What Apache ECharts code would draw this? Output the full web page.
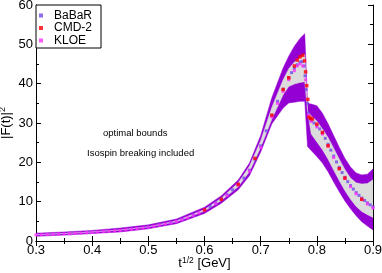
<!DOCTYPE html>
<html><head><meta charset="utf-8">
<script src="https://cdn.jsdelivr.net/npm/echarts@6/dist/echarts.min.js"></script>
<style>html,body{margin:0;padding:0;background:#fff}#c{width:382px;height:273px}</style>
</head><body><div id="c"></div>
<script>
// ---- band boundaries (x in GeV, |F|^2) ----
const bandX      = [0.30,0.35,0.40,0.45,0.50,0.55,0.60,0.63,0.66,0.68,0.70,0.72,0.74,0.75,0.76,0.77,0.7785,0.7835,0.79,0.80,0.81,0.82,0.83,0.84,0.85,0.86,0.87,0.88,0.89,0.90];
const upperOuter = [2.0, 2.3, 2.7, 3.3, 4.1, 5.6, 8.6, 11.5,15.5,19.8,26.8,36.5,44.0,47.0,49.5,51.5,52.7, 35.0, 34.8,34.4,32.5,29.8,26.8,23.8,21.0,18.8,17.3,16.8,17.0,18.3];
const upperInner = [1.6, 1.9, 2.3, 2.8, 3.6, 5.1, 8.0, 10.9,14.8,19.0,25.5,34.0,41.0,43.8,45.5,46.6,47.4, 33.0, 31.8,30.5,28.5,26.3,23.6,20.8,18.2,16.0,14.8,14.5,14.6,15.6];
const lowerInner = [1.6, 1.9, 2.3, 2.8, 3.6, 4.9, 7.6, 10.3,13.8,17.6,23.8,31.0,37.2,39.3,39.9,40.3,40.5, 33.0, 27.2,25.2,23.2,20.8,18.0,15.3,12.8,10.6,8.8, 7.5, 6.7, 6.0];
const lowerOuter = [1.2, 1.5, 1.9, 2.3, 3.1, 4.4, 7.0, 9.6, 13.0,16.6,22.6,29.8,33.8,35.1,35.3,35.5,35.5, 24.0, 23.0,21.5,19.8,17.6,15.0,12.5,10.2,8.2, 6.4, 4.9, 3.8, 2.8];

// ---- data points ----
const babarX = [0.50,0.52,0.54,0.56,0.58,0.60,0.61,0.62,0.63,0.64,0.65,0.66,0.67,0.68,0.69,0.70,0.71,0.72,0.73,0.74,0.75,0.755,0.76,0.765,0.77,0.774,0.777,0.779,0.781,0.783,0.785,0.788,0.79,0.795,0.80,0.805,0.81,0.815,0.82,0.825,0.83,0.835,0.84,0.845,0.85,0.855,0.86,0.865,0.87,0.875,0.88,0.885,0.89,0.895,0.90];
const babarY = [3.6, 4.1, 4.7, 5.5, 6.6, 7.9, 8.8, 9.7, 10.7,11.8,13.0,14.4,16.0,18.0,20.8,24.2,28.0,31.8,35.5,38.6,41.5,42.8,43.9,44.8,45.5,45.6,44.5,42.0,38.5,35.0,32.5,31.0,30.6,30.0,29.3,28.5,27.5,26.1,24.6,23.1,21.6,20.1,18.7,17.4,16.2,15.1,14.1,13.2,12.3,11.6,10.9,10.3,9.7,9.2,8.7];
const cmdX = [0.60,0.63,0.66,0.69,0.72,0.74,0.75,0.76,0.765,0.77,0.775,0.778,0.780,0.782,0.784,0.786,0.789,0.792,0.80,0.81,0.82,0.84,0.85,0.88];
const cmdY = [7.9, 10.6,14.4,21.0,32.0,38.5,41.5,44.5,46.0, 46.8,47.2, 45.8, 43.0, 39.5, 36.0, 31.5, 31.2, 31.0, 29.7,27.6,24.2,18.4,16.0,10.6];
const kloeX = [0.30,0.31,0.32,0.33,0.34,0.35,0.36,0.37,0.38,0.39,0.40,0.41,0.42,0.43,0.44,0.45,0.46,0.47,0.48,0.49,0.50,0.51,0.52,0.53,0.54,0.55,0.56,0.57,0.58,0.59,0.60,0.62,0.64,0.66,0.68,0.70,0.72,0.73,0.74,0.75,0.76,0.765,0.77,0.775,0.78,0.785,0.79,0.80,0.81,0.82,0.83,0.84,0.85,0.86,0.87,0.88,0.89,0.90];
const kloeY = [1.55,1.6, 1.65,1.7, 1.75,1.8, 1.85,1.9, 2.0, 2.1, 2.2, 2.3, 2.4, 2.5, 2.6, 2.7, 2.85,3.0, 3.15,3.3, 3.5, 3.75,4.0, 4.3, 4.6, 5.0, 5.4, 5.9, 6.5, 7.1, 7.8, 9.5, 11.6,14.2,17.8,23.8,31.5,35.0,38.0,41.0,43.3,44.5,45.0,44.5,41.0,32.0,30.4,29.0,27.2,24.2,21.2,18.4,15.9,13.8,12.0,10.6,9.4, 8.4];

const pair = (xs, ys) => xs.map((x, i) => [x, ys[i]]);

function bandSeries(name, upper, lower, color) {
  return {
    type: 'custom', name: name, silent: true, clip: true,
    data: [[bandX[0], lower[0]]],
    renderItem: function (params, api) {
      const pts = [];
      for (let i = 0; i < bandX.length; i++) pts.push(api.coord([bandX[i], upper[i]]));
      for (let i = bandX.length - 1; i >= 0; i--) pts.push(api.coord([bandX[i], lower[i]]));
      return {type: 'polygon', shape: {points: pts}, style: {fill: color, stroke: color, lineWidth: 0.5}};
    }
  };
}

const chart = echarts.init(document.getElementById('c'), null, {renderer: 'canvas'});
const FONT = 'Liberation Sans';
const axisCommon = {
  axisLine: {show: true, lineStyle: {color: '#000', width: 1}},
  axisTick: {show: true, inside: true, length: 5, lineStyle: {color: '#000'}},
  minorTick: {show: true, splitNumber: 2, length: 3, lineStyle: {color: '#000'}},
  splitLine: {show: false},
};
chart.setOption({
  animation: false,
  backgroundColor: '#fff',
  grid: {left: 36, right: 9, top: 5, bottom: 32, outerBoundsMode: 'none', containLabel: false},
  legend: {
    data: ['BaBaR', 'CMD-2', 'KLOE'],
    orient: 'vertical', left: 36, top: 5,
    backgroundColor: '#fff', borderColor: '#000', borderWidth: 1,
    padding: [4.5, 9, 1.5, 3], itemGap: 0.5,
    itemWidth: 16, itemHeight: 4,
    icon: 'path://M0,0h1v1h-1z',
    textStyle: {fontFamily: FONT, fontSize: 12, color: '#000', lineHeight: 11.5}
  },
  xAxis: [
    Object.assign({type: 'value', min: 0.3, max: 0.9, interval: 0.1, position: 'bottom',
      axisLabel: {color: '#000', fontFamily: FONT, fontSize: 13, margin: 3, formatter: v => v.toFixed(1)},
      name: '{t|t}{s|1/2}{t| [GeV]}', nameLocation: 'middle', nameGap: 15, nameMoveOverlap: false,
      nameTextStyle: {rich: {t: {fontFamily: FONT, fontSize: 13, color: '#000'}, s: {fontFamily: FONT, fontSize: 8.5, color: '#000', padding: [0,0,6,0]}}}
    }, axisCommon),
    Object.assign({type: 'value', min: 0.3, max: 0.9, interval: 0.1, position: 'top', axisLabel: {show: false}}, axisCommon)
  ],
  yAxis: [
    Object.assign({type: 'value', min: 0, max: 60, interval: 10, position: 'left',
      axisLabel: {color: '#000', fontFamily: FONT, fontSize: 13, margin: 3},
      name: '{t||F(t)|}{s|2}', nameLocation: 'middle', nameGap: 22, nameRotate: 90, nameMoveOverlap: false,
      nameTextStyle: {rich: {t: {fontFamily: FONT, fontSize: 13, color: '#000'}, s: {fontFamily: FONT, fontSize: 9, color: '#000', padding: [0,0,7,0]}}}
    }, axisCommon),
    Object.assign({type: 'value', min: 0, max: 60, interval: 10, position: 'right', axisLabel: {show: false}}, axisCommon)
  ],
  graphic: [
    {type: 'text', left: 103, top: 128, style: {text: 'optimal bounds', fontFamily: FONT, fontSize: 9.5, fill: '#000'}},
    {type: 'text', left: 87, top: 148, style: {text: 'Isospin breaking included', fontFamily: FONT, fontSize: 9.5, fill: '#000'}}
  ],
  series: [
    bandSeries('outerBand', upperOuter, lowerOuter, '#9400d3'),
    bandSeries('innerBand', upperInner, lowerInner, '#dcdcdc'),
    {type: 'scatter', name: 'BaBaR', data: pair(babarX, babarY), symbol: 'rect', symbolSize: 3, itemStyle: {color: '#7048e8'}},
    {type: 'scatter', name: 'KLOE', data: pair(kloeX, kloeY), symbol: 'rect', symbolSize: 3, itemStyle: {color: '#ff30ff'}},
    {type: 'scatter', name: 'CMD-2', data: pair(cmdX, cmdY), symbol: 'rect', symbolSize: 3.5, itemStyle: {color: '#ff0000'}}
  ]
});
</script>
</body></html>
